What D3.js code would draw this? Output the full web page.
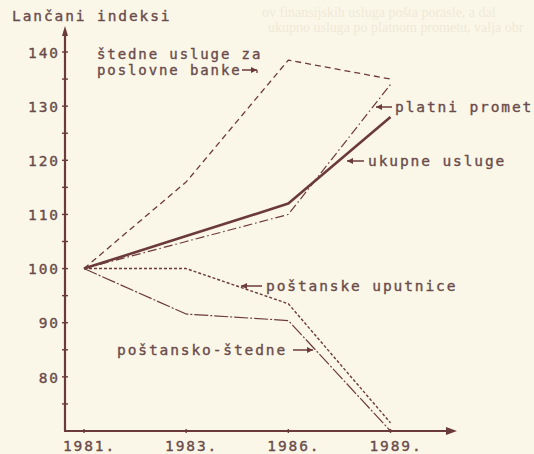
<!DOCTYPE html>
<html><head><meta charset="utf-8">
<script src="https://cdn.jsdelivr.net/npm/d3@7"></script>
<style>
html,body{margin:0;padding:0;background:#fbf7e8;}
svg{display:block;}
text{font-family:"DejaVu Sans Mono",monospace;}
</style></head><body>
<svg id="c" width="534" height="454"></svg>
<script>
// ---- data ----
const years = ["1981.", "1983.", "1986.", "1989."];
const ukupneUsluge = [100, 106, 112, 128];
const platniPromet = [100, 105, 110, 134];
const stedneUsluge = [100, 116, 138.5, 135];
const postanskeUputnice = [100, 100, 93.5, 71.5];
const postanskoStedne = [100, 91.6, 90.4, 70];
const yTicks = [80, 90, 100, 110, 120, 130, 140];
const yMinorTicks = [75, 85, 95, 105, 115, 125, 135];
const yTitle = "Lančani indeksi";
const seriesLabels = {
  stedne: ["štedne usluge za", "poslovne banke"],
  platni: "platni promet",
  ukupne: "ukupne usluge",
  uputnice: "poštanske uputnice",
  postansko: "poštansko-štedne"
};
const ghostLines = ["ov finansijskih usluga pošta porasle, a dal", "ukupno usluga po platnom prometu, valja obr"];

// ---- drawing ----
const ink = "#6b3a3b", txt = "#6a4b4b";
const svg = d3.select("#c");
svg.append("rect").attr("width", 534).attr("height", 454).attr("fill", "#fbf7e8");

// faint bleed-through text from the scanned page
svg.selectAll("text.ghost").data(ghostLines).join("text")
  .attr("class", "ghost")
  .attr("x", (d, i) => i ? 268 : 262).attr("y", (d, i) => 17 + i * 15)
  .attr("fill", "#efe9d8").style("font-family", "'Liberation Serif',serif")
  .style("font-size", "14px").text(d => d);

const x = d3.scalePoint().domain(years).range([84, 390.5]);
const y = d3.scaleLinear().domain([70, 140]).range([431, 52]);
const x0 = 65;

const fs = "14.5px", ls = "1.9px";
function styleText(sel, size) {
  sel.attr("fill", txt).attr("stroke", txt).attr("stroke-width", 0.35)
    .style("font-size", size || fs).style("letter-spacing", ls)
    .style("font-family", "'DejaVu Sans Mono',monospace");
}

// axes lines with arrows
svg.append("line").attr("x1", x0).attr("x2", x0).attr("y1", 431).attr("y2", 30)
  .attr("stroke", ink).attr("stroke-width", 2.2);
svg.append("path").attr("d", `M${x0 - 3},36 L${x0},26 L${x0 + 3},36 Z`).attr("fill", ink);
svg.append("line").attr("x1", x0 - 1).attr("x2", 450).attr("y1", 431).attr("y2", 431)
  .attr("stroke", ink).attr("stroke-width", 2.2);
svg.append("path").attr("d", `M446,427 L457,431 L446,435 Z`).attr("fill", ink);

// y axis ticks via d3 axis
const yAxis = svg.append("g").attr("transform", `translate(${x0},0)`)
  .call(d3.axisLeft(y).tickValues(yTicks).tickSize(0).tickPadding(5).tickFormat(d3.format("d")));
yAxis.select(".domain").remove();
styleText(yAxis.selectAll("text"));
yAxis.selectAll("text").attr("dy", "0.36em");
svg.selectAll("line.ytick").data(yTicks.concat(yMinorTicks)).join("line")
  .attr("class", "ytick").attr("x1", x0 - 3).attr("x2", x0 + 3)
  .attr("y1", d => y(d)).attr("y2", d => y(d)).attr("stroke", ink).attr("stroke-width", 1.4);

// x axis ticks + labels
const xAxis = svg.append("g").attr("transform", "translate(0,431)")
  .call(d3.axisBottom(x).tickSize(0).tickPadding(10));
xAxis.select(".domain").remove();
styleText(xAxis.selectAll("text"));
xAxis.selectAll("text").attr("dx", "5");
svg.selectAll("line.xtick").data(years).join("line")
  .attr("class", "xtick").attr("x1", d => x(d)).attr("x2", d => x(d))
  .attr("y1", 429).attr("y2", 433).attr("stroke", ink).attr("stroke-width", 1.4);

// series
const line = d3.line().x((d, i) => x(years[i])).y(d => y(d));
const series = [
  {v: stedneUsluge, w: 1.3, dash: "6,4"},
  {v: platniPromet, w: 1.2, dash: "9,3,1.5,3"},
  {v: postanskeUputnice, w: 1.4, dash: "3,2"},
  {v: postanskoStedne, w: 1.2, dash: "14,2,2,2"},
  {v: ukupneUsluge, w: 2.6, dash: null}
];
svg.selectAll("path.s").data(series).join("path")
  .attr("class", "s").attr("d", d => line(d.v)).attr("fill", "none")
  .attr("stroke", ink).attr("stroke-width", d => d.w)
  .attr("stroke-dasharray", d => d.dash).attr("stroke-linejoin", "round");

// labels
function lab(t, xx, yy, size) {
  styleText(svg.append("text").attr("x", xx).attr("y", yy).text(t), size);
}
// pointer arrows next to labels (dir -1 = pointing left)
function arrow(xa, xb, yy, dir) {
  const tip = dir < 0 ? xa : xb;
  svg.append("line").attr("x1", xa).attr("x2", xb).attr("y1", yy).attr("y2", yy)
    .attr("stroke", ink).attr("stroke-width", 1.5);
  svg.append("path")
    .attr("d", `M${tip},${yy} L${tip - dir * 6},${yy - 3} L${tip - dir * 6},${yy + 3} Z`)
    .attr("fill", ink);
}
lab(yTitle, 12, 21);
lab(seriesLabels.stedne[0], 97, 59, "14px");
lab(seriesLabels.stedne[1], 97, 75, "14px");
arrow(242, 257, 70, 1);
svg.append("line").attr("x1", 257).attr("x2", 257).attr("y1", 70).attr("y2", 73)
  .attr("stroke", ink).attr("stroke-width", 1.3);
lab(seriesLabels.platni, 395, 112);
arrow(376, 392, 107, -1);
lab(seriesLabels.ukupne, 368, 166);
arrow(347, 364, 161, -1);
lab(seriesLabels.uputnice, 266, 291);
arrow(241, 262, 286, -1);
lab(seriesLabels.postansko, 117, 355);
arrow(293, 313, 350, 1);
</script>
</body></html>
